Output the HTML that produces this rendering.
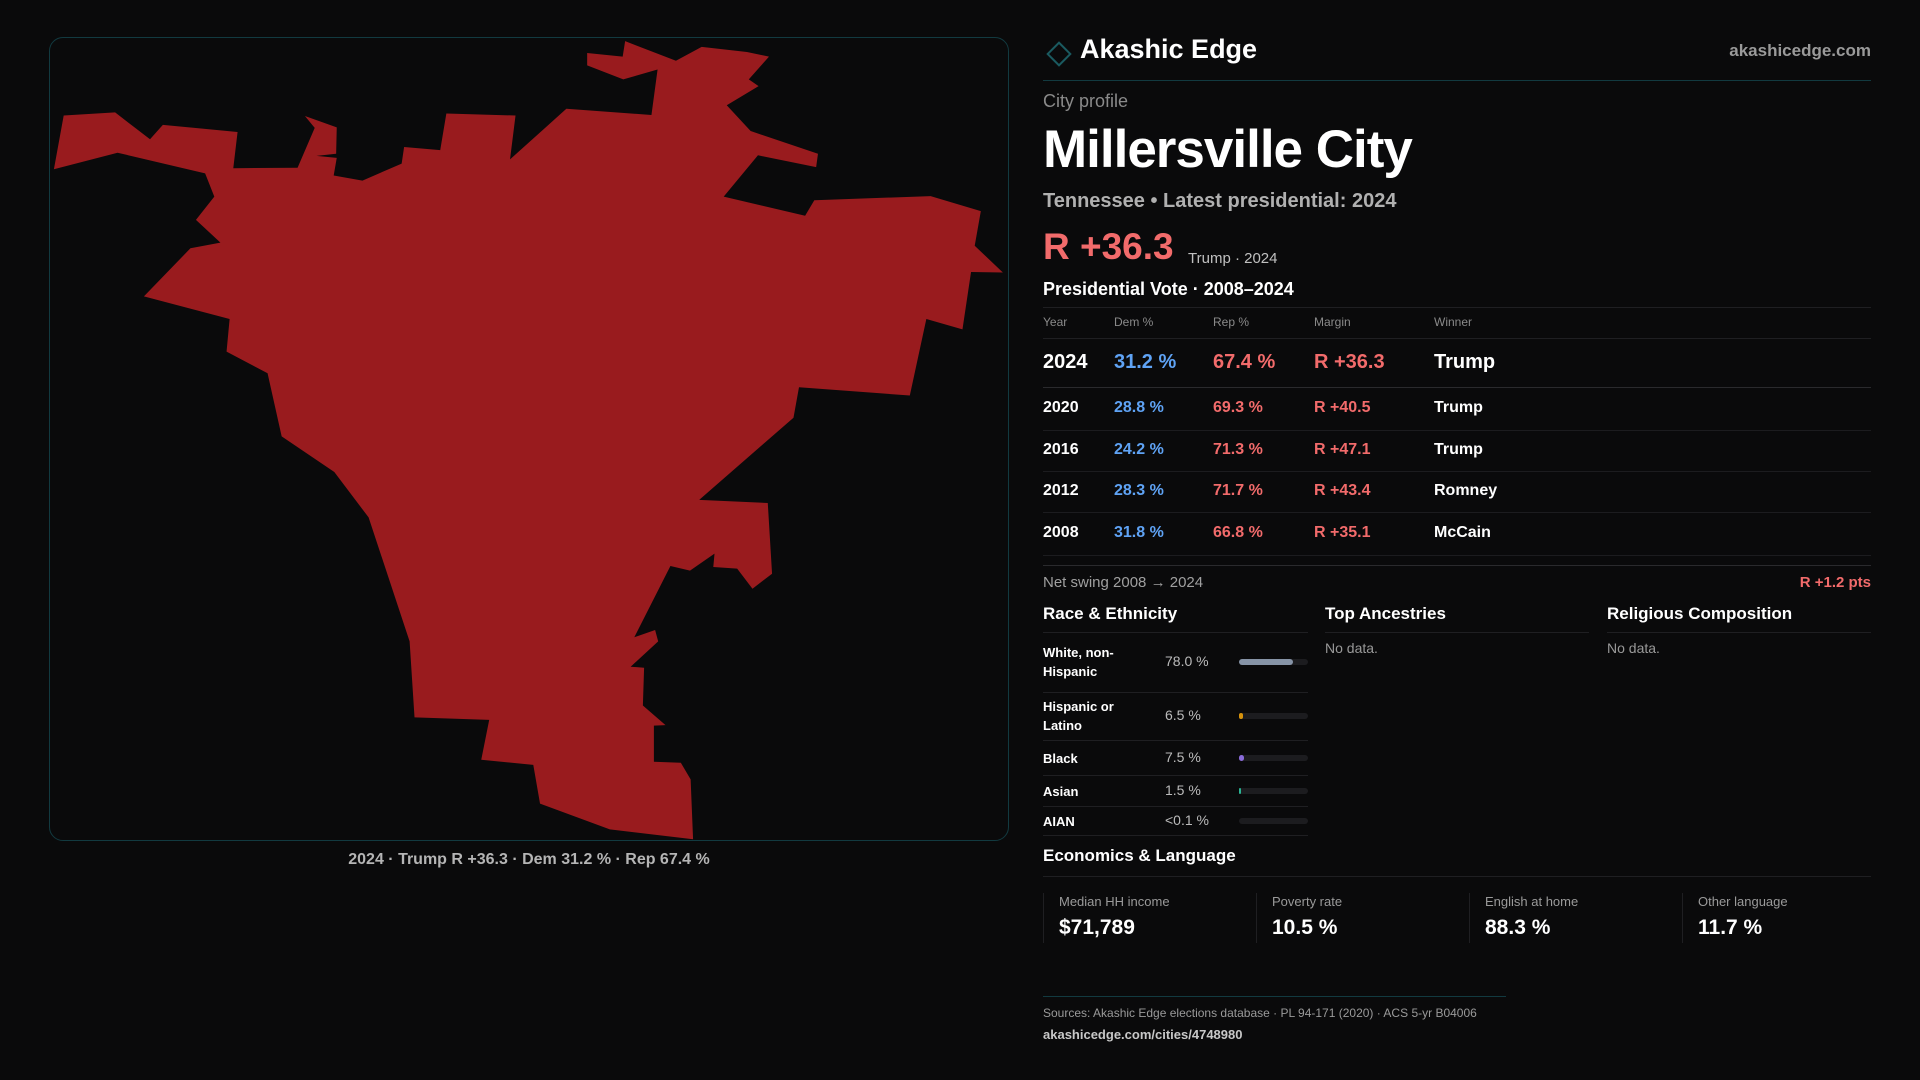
<!DOCTYPE html>
<html><head><meta charset="utf-8">
<style>
*{margin:0;padding:0;box-sizing:border-box}
body{width:1920px;height:1080px;background:#0a0a0b;font-family:"Liberation Sans",sans-serif;color:#fff;position:relative;overflow:hidden}
.a{position:absolute;white-space:nowrap}
.hl{position:absolute;height:1px;background:#1f1f22}
.red{color:#f26b6b}.blue{color:#5fa3f5}
</style></head><body>
<div class="a" style="left:49px;top:37px;width:960px;height:804px;border:1px solid #123a40;border-radius:14px;background:#0a0a0b;overflow:hidden">
<svg width="960" height="810" viewBox="0 0 1568 1568" preserveAspectRatio="none" style="position:absolute;left:-1px;top:-1px">
<polygon fill="#991b1e" points="24,152 108,146 165,198 186,170 308,184 301,254 406,253 434,176 418,153 470,175 469,226 437,230 470,234 465,268 512,278 576,245 580,213 639,219 649,148 762,152 753,237 845,139 984,151 994,63 938,82 879,55 879,31 937,38 941,8 1024,46 1066,19 1140,29 1176,38 1143,82 1159,95 1107,132 1146,182 1256,226 1253,252 1158,229 1102,309 1235,346 1250,316 1440,308 1522,337 1512,404 1558,456 1506,455 1492,566 1433,546 1406,694 1225,678 1216,737 1062,896 1174,902 1181,1039 1149,1068 1124,1029 1085,1026 1087,1000 1047,1033 1015,1024 956,1162 990,1148 995,1170 950,1219 972,1221 970,1294 1007,1332 988,1333 988,1403 1032,1405 1048,1437 1052,1553 916,1534 802,1484 791,1409 706,1399 719,1322 597,1317 589,1170 522,930 466,842 380,773 357,651 290,609 295,546 155,502 231,409 280,398 240,354 270,309 255,264 112,224 8,256"/>
</svg></div>
<div class="a" style="left:49px;width:960px;top:851px;text-align:center;font-size:16px;color:#b5b5b5;font-weight:bold">2024 · Trump R +36.3 · Dem 31.2 % · Rep 67.4 %</div>

<div class="a" style="left:1050px;top:45px;width:18px;height:18px;border:2px solid #1a5a60;transform:rotate(45deg)"></div>
<div class="a" style="left:1080px;top:34px;font-size:27px;font-weight:bold">Akashic Edge</div>
<div class="a" style="right:49px;top:41px;font-size:17px;color:#9a9a9a;font-weight:bold">akashicedge.com</div>
<div class="hl" style="left:1043px;width:828px;top:80px;background:#123a40"></div>
<div class="a" style="left:1043px;top:91px;font-size:18px;color:#8a8a8a">City profile</div>
<div class="a" style="left:1043px;top:119px;font-size:53px;font-weight:bold;letter-spacing:-1px">Millersville City</div>
<div class="a" style="left:1043px;top:190px;font-size:20px;color:#b0b0b0;font-weight:bold">Tennessee • Latest presidential: 2024</div>
<div class="a red" style="left:1043px;top:226px;font-size:37px;font-weight:bold">R +36.3</div>
<div class="a" style="left:1188px;top:250px;font-size:15px;color:#c0c0c0">Trump · 2024</div>
<div class="a" style="left:1043px;top:279px;font-size:18px;font-weight:bold">Presidential Vote · 2008–2024</div>
<div class="hl" style="left:1043px;width:828px;top:307px"></div>
<div id="tbl"></div>
<div class="hl" style="left:1043px;width:828px;top:565px;background:#2a2a2d"></div>
<div class="a" style="left:1043px;top:574px;font-size:15px;color:#a0a0a0">Net swing 2008 → 2024</div>
<div class="a red" style="right:49px;top:574px;font-size:15px;font-weight:bold">R +1.2 pts</div>

<div class="a" style="left:1043px;top:604px;font-size:17px;font-weight:bold">Race &amp; Ethnicity</div>
<div class="hl" style="left:1043px;width:265px;top:632px"></div>
<div class="a" style="left:1325px;top:604px;font-size:17px;font-weight:bold">Top Ancestries</div>
<div class="hl" style="left:1325px;width:264px;top:632px"></div>
<div class="a" style="left:1325px;top:640px;font-size:14px;color:#999">No data.</div>
<div class="a" style="left:1607px;top:604px;font-size:17px;font-weight:bold">Religious Composition</div>
<div class="hl" style="left:1607px;width:264px;top:632px"></div>
<div class="a" style="left:1607px;top:640px;font-size:14px;color:#999">No data.</div>
<div id="race"></div>

<div class="a" style="left:1043px;top:846px;font-size:17px;font-weight:bold">Economics &amp; Language</div>
<div class="hl" style="left:1043px;width:828px;top:876px"></div>
<div id="stats"></div>

<div class="hl" style="left:1043px;width:463px;top:996px;background:#123a40"></div>
<div class="a" style="left:1043px;top:1006px;font-size:12px;color:#9a9a9a">Sources: Akashic Edge elections database · PL 94-171 (2020) · ACS 5-yr B04006</div>
<div class="a" style="left:1043px;top:1027px;font-size:13px;color:#c8c8c8;font-weight:bold">akashicedge.com/cities/4748980</div>

<script>
const years=["2024","2020","2016","2012","2008"];
const demPct=[31.2,28.8,24.2,28.3,31.8];
const repPct=[67.4,69.3,71.3,71.7,66.8];
const margins=[36.3,40.5,47.1,43.4,35.1];
const winners=["Trump","Trump","Trump","Romney","McCain"];
const raceLabels=["White, non-<br>Hispanic","Hispanic or<br>Latino","Black","Asian","AIAN"];
const raceValues=[78.0,6.5,7.5,1.5,0.05];
const raceText=["78.0 %","6.5 %","7.5 %","1.5 %","<0.1 %"];
const raceColors=["#8693a6","#d6920c","#8a6bd9","#2bb393","#444"];
const statLabels=["Median HH income","Poverty rate","English at home","Other language"];
const statValues=["$71,789","10.5 %","88.3 %","11.7 %"];

function mk(parent,css,html){const d=document.createElement('div');d.className='a';d.style.cssText=css;d.innerHTML=html;parent.appendChild(d);return d;}
const tbl=document.getElementById('tbl');
const cols=[1043,1114,1213,1314,1434];
["Year","Dem %","Rep %","Margin","Winner"].forEach((h,i)=>{
 const e=mk(tbl,`left:${cols[i]}px;top:315px;font-size:12px;color:#8a8a8a`,h);
 
 
});
const l0=mk(tbl,'left:1043px;width:828px;top:338px;height:1px;background:#1f1f22','');


const rowTop=[338,387,430,471,512], rowBot=[387,430,471,512,555];
years.forEach((y,i)=>{
 const big=i===0, fs=big?20:16, c=(rowTop[i]+rowBot[i])/2, t=c-fs*0.6;
 const vals=[y,demPct[i].toFixed(1)+" %",repPct[i].toFixed(1)+" %","R +"+margins[i].toFixed(1),winners[i]];
 const colr=["#fff","#5fa3f5","#f26b6b","#f26b6b","#fff"];
 vals.forEach((v,j)=>{
  const e=mk(tbl,`left:${cols[j]}px;top:${t}px;font-size:${fs}px;font-weight:bold;color:${colr[j]}`,v);
  
  
 });
 const ln=mk(tbl,`left:1043px;width:828px;top:${rowBot[i]}px;height:1px;background:${big?'#2a2a2d':'#1c1c1f'}`,'');
 
 
});
const race=document.getElementById('race');
const rT=[632,692,740,775,806], rB=[692,740,775,806,835];
const x0=1239, bw=69;
raceValues.forEach((v,i)=>{
 const c=(rT[i]+rB[i])/2;
 const two=raceLabels[i].includes('<br>');
 const lb=mk(race,`left:1043px;top:${c-(two?19:9)}px;font-size:13px;font-weight:bold;line-height:19px;white-space:normal`,raceLabels[i]);
 
 
 const vt=mk(race,`left:1165px;top:${c-9}px;font-size:14px;color:#bbb`,raceText[i].replace('<','&lt;'));
 
 
 const tr=mk(race,`left:${x0}px;top:${c-3}px;width:${bw}px;height:6px;border-radius:3px;background:#1c1c1f`,'');
 
 
 const w=Math.max(bw*v/100, v>=1?2:0);
 const f=mk(race,`left:${x0}px;top:${c-3}px;width:${w}px;height:6px;border-radius:3px;background:${raceColors[i]}`,'');
 
 
 const ln=mk(race,`left:1043px;width:265px;top:${rB[i]}px;height:1px;background:#1f1f22`,'');
 
 
});
const stats=document.getElementById('stats');
statLabels.forEach((s,i)=>{
 const x=1043+i*213;
 const b=mk(stats,`left:${x}px;top:893px;width:1px;height:50px;background:#1f1f22`,'');
 
 
 const l=mk(stats,`left:${x+16}px;top:894px;font-size:13px;color:#9a9a9a`,s);
 
 
 const v=mk(stats,`left:${x+16}px;top:916px;font-size:21px;font-weight:bold`,statValues[i]);
 
 
});
</script>
</body></html>
